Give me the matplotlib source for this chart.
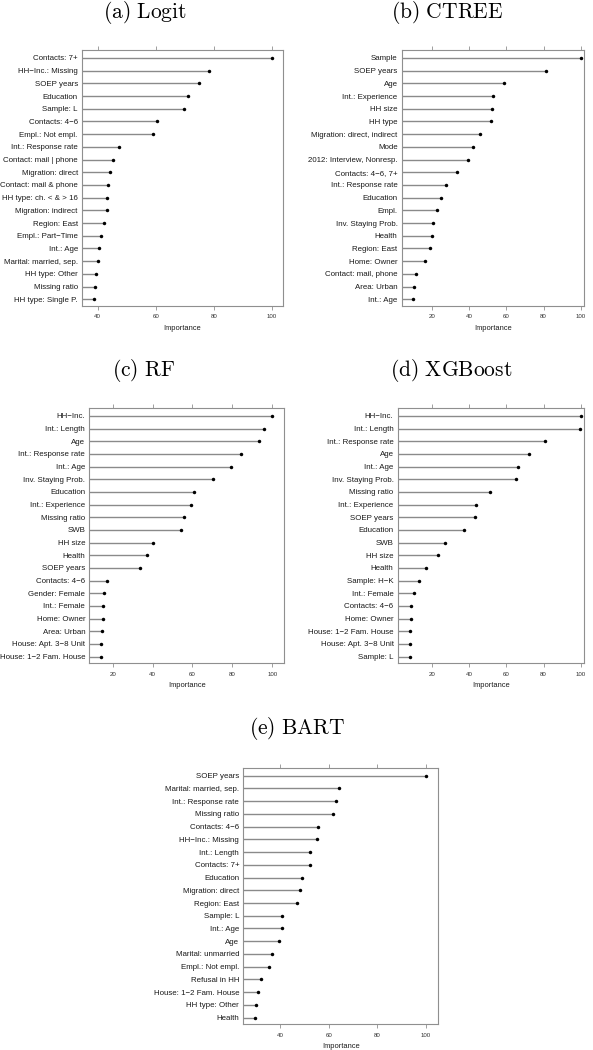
import matplotlib

matplotlib.use("Agg")
import matplotlib.pyplot as plt

plt.rcParams["font.family"] = ["Liberation Sans", "DejaVu Sans"]
plt.rcParams["mathtext.fontset"] = "cm"

W, H = 593, 1050

logit_vars = ["Contacts: 7+", "HH\u2212Inc.: Missing", "SOEP years", "Education",
              "Sample: L", "Contacts: 4\u22126", "Empl.: Not empl.",
              "Int.: Response rate", "Contact: mail | phone", "Migration: direct",
              "Contact: mail & phone", "HH type: ch. < & > 16", "Migration: indirect",
              "Region: East", "Empl.: Part\u2212Time", "Int.: Age",
              "Marital: married, sep.", "HH type: Other", "Missing ratio",
              "HH type: Single P."]
logit_imp = [100, 78.3, 75.0, 71.2, 69.6, 60.4, 59.1, 47.2, 45.2, 44.4,
             43.4, 43.3, 43.1, 42.3, 41.0, 40.4, 40.0, 39.4, 39.2, 38.6]

ctree_vars = ["Sample", "SOEP years", "Age", "Int.: Experience", "HH size",
              "HH type", "Migration: direct, indirect", "Mode",
              "2012: Interview, Nonresp.", "Contacts: 4\u22126, 7+",
              "Int.: Response rate", "Education", "Empl.", "Inv. Staying Prob.",
              "Health", "Region: East", "Home: Owner", "Contact: mail, phone",
              "Area: Urban", "Int.: Age"]
ctree_imp = [100, 81.2, 58.7, 52.6, 52.1, 51.9, 45.9, 41.9, 39.1, 33.5,
             27.2, 24.9, 22.4, 20.4, 20.0, 18.8, 15.9, 11.4, 10.3, 9.7]

rf_vars = ["HH\u2212Inc.", "Int.: Length", "Age", "Int.: Response rate",
           "Int.: Age", "Inv. Staying Prob.", "Education", "Int.: Experience",
           "Missing ratio", "SWB", "HH size", "Health", "SOEP years",
           "Contacts: 4\u22126", "Gender: Female", "Int.: Female", "Home: Owner",
           "Area: Urban", "House: Apt. 3\u22128 Unit", "House: 1\u22122 Fam. House"]
rf_imp = [100, 95.8, 93.3, 84.5, 79.5, 70.4, 60.7, 59.2, 55.9, 54.5,
          40.3, 37.2, 33.5, 17.1, 15.5, 15.4, 15.0, 14.5, 14.3, 14.2]

xgb_vars = ["HH\u2212Inc.", "Int.: Length", "Int.: Response rate", "Age",
            "Int.: Age", "Inv. Staying Prob.", "Missing ratio",
            "Int.: Experience", "SOEP years", "Education", "SWB", "HH size",
            "Health", "Sample: H\u2212K", "Int.: Female", "Contacts: 4\u22126",
            "Home: Owner", "House: 1\u22122 Fam. House", "House: Apt. 3\u22128 Unit",
            "Sample: L"]
xgb_imp = [100, 99.6, 80.8, 72.4, 66.5, 65.2, 51.2, 43.7, 43.2, 37.2,
           26.8, 23.1, 17.0, 13.2, 10.5, 8.5, 8.5, 8.3, 8.2, 7.9]

bart_vars = ["SOEP years", "Marital: married, sep.", "Int.: Response rate",
             "Missing ratio", "Contacts: 4\u22126", "HH\u2212Inc.: Missing",
             "Int.: Length", "Contacts: 7+", "Education", "Migration: direct",
             "Region: East", "Sample: L", "Int.: Age", "Age",
             "Marital: unmarried", "Empl.: Not empl.", "Refusal in HH",
             "House: 1\u22122 Fam. House", "HH type: Other", "Health"]
bart_imp = [100, 64.2, 62.8, 61.7, 55.7, 55.2, 52.4, 52.2, 48.8, 48.0,
            46.9, 40.8, 40.7, 39.3, 36.5, 35.5, 32.0, 30.9, 30.0, 29.7]

# (title, vars, values, ticks, xlim, box px: left, right, top, bottom, title centre px)
panels = [
    ("(a)\\ Logit", logit_vars, logit_imp, [40, 60, 80, 100], (34.6, 103.9),
     (82, 283, 50, 306), (145, 13)),
    ("(b)\\ CTREE", ctree_vars, ctree_imp, [20, 40, 60, 80, 100], (3.5, 101.8),
     (401.7, 584, 50, 306), (447, 13)),
    ("(c)\\ RF", rf_vars, rf_imp, [20, 40, 60, 80, 100], (8.3, 105.9),
     (89.3, 284, 408, 663.3), (144, 370)),
    ("(d)\\ XGBoost", xgb_vars, xgb_imp, [20, 40, 60, 80, 100], (1.5, 101.8),
     (397.7, 584, 408, 663.3), (451, 370)),
    ("(e)\\ BART", bart_vars, bart_imp, [40, 60, 80, 100], (24.8, 105.1),
     (243.3, 438.3, 767.7, 1024.3), (297, 728)),
]

FRAME = "#8f8f8f"
STEM = "#8a8a8a"

fig = plt.figure(figsize=(W / 100, H / 100), dpi=100)

for title, names, vals, ticks, xlim, (l, r, t, b), (tx, ty) in panels:
    ax = fig.add_axes([l / W, 1 - b / H, (r - l) / W, (b - t) / H])
    ys = list(range(len(names)))
    ax.set_xlim(*xlim)
    ax.set_ylim(len(names) - 0.47, -0.63)
    ax.hlines(ys, xlim[0], vals, color=STEM, lw=1.0)
    ax.plot(vals, ys, "o", color="black", ms=2.5, mew=0)
    ax.set_yticks(ys)
    ax.set_yticklabels(names, fontsize=5.7, color="#1a1a1a")
    ax.set_xticks(ticks)
    ax.set_xticklabels([str(v) for v in ticks], fontsize=4.4, color="#333333")
    ax.tick_params(axis="y", length=0, pad=3)
    ax.tick_params(axis="x", which="both", top=True, direction="out",
                   length=2.6, width=0.6, color=FRAME, pad=3.5)
    ax.set_xlabel("Importance", fontsize=5.4, labelpad=4, color="#1a1a1a")
    for sp in ax.spines.values():
        sp.set_color(FRAME)
        sp.set_linewidth(0.8)
    fig.text(tx / W, 1 - ty / H, "$\\mathrm{" + title + "}$", ha="center",
             va="center", fontsize=15.5)

fig.savefig("out.png", dpi=100)
